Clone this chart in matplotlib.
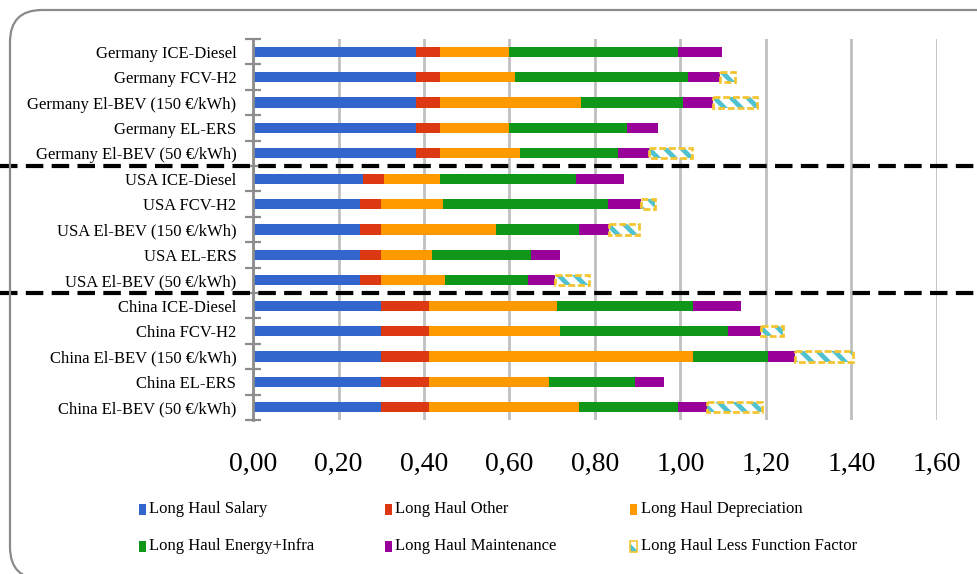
import matplotlib
matplotlib.use("Agg")
import matplotlib.pyplot as plt
import numpy as np
from matplotlib.patches import Rectangle, FancyBboxPatch
from matplotlib.transforms import blended_transform_factory

# ---- data (cost per km, €) ----
categories = [
    "Germany ICE-Diesel", "Germany FCV-H2", "Germany El-BEV (150 €/kWh)",
    "Germany EL-ERS", "Germany El-BEV (50 €/kWh)",
    "USA ICE-Diesel", "USA FCV-H2", "USA El-BEV (150 €/kWh)",
    "USA EL-ERS", "USA El-BEV (50 €/kWh)",
    "China ICE-Diesel", "China FCV-H2", "China El-BEV (150 €/kWh)",
    "China EL-ERS", "China El-BEV (50 €/kWh)",
]
salary = [0.381, 0.381, 0.381, 0.381, 0.381,
          0.257, 0.250, 0.250, 0.250, 0.250,
          0.299, 0.299, 0.299, 0.299, 0.299]
other = [0.056, 0.056, 0.056, 0.056, 0.056,
         0.049, 0.050, 0.050, 0.050, 0.050,
         0.113, 0.113, 0.113, 0.113, 0.113]
depreciation = [0.163, 0.175, 0.331, 0.163, 0.188,
                0.131, 0.144, 0.268, 0.119, 0.150,
                0.300, 0.306, 0.618, 0.281, 0.350]
energy_infra = [0.393, 0.406, 0.237, 0.274, 0.229,
                0.319, 0.386, 0.194, 0.231, 0.193,
                0.318, 0.393, 0.175, 0.200, 0.231]
maintenance = [0.105, 0.074, 0.072, 0.074, 0.072,
               0.112, 0.078, 0.070, 0.068, 0.064,
               0.112, 0.077, 0.064, 0.068, 0.068]
less_function = [0.0, 0.036, 0.101, 0.0, 0.102,
                 0.0, 0.033, 0.072, 0.0, 0.078,
                 0.0, 0.052, 0.134, 0.0, 0.130]
xticks = [0.0, 0.2, 0.4, 0.6, 0.8, 1.0, 1.2, 1.4, 1.6]
xtick_labels = ["0,00", "0,20", "0,40", "0,60", "0,80", "1,00", "1,20", "1,40", "1,60"]
series_names = ["Long Haul Salary", "Long Haul Other", "Long Haul Depreciation",
                "Long Haul Energy+Infra", "Long Haul Maintenance",
                "Long Haul Less Function Factor"]
group_size = 5

colors = ["#3366cc", "#dc3912", "#ff9900", "#109618", "#990099"]
hatch_color = "#4fc1cf"
hatch_edge = "#f4c531"

plt.rcParams["font.family"] = ["Liberation Serif", "DejaVu Serif"]
plt.rcParams["hatch.linewidth"] = 3.4

fig = plt.figure(figsize=(9.78, 5.74), dpi=100)
fig.patch.set_facecolor("white")

# rounded outer frame
frame = FancyBboxPatch((0.10, -0.05), 10.5, 5.69,
                       boxstyle="round,pad=0,rounding_size=0.32",
                       transform=fig.dpi_scale_trans, facecolor="none",
                       edgecolor="#8a8a8a", linewidth=1.6, zorder=0)
fig.patches.append(frame)

ax = fig.add_axes([253 / 978, 1 - 420 / 574, (937 - 253) / 978, (420 - 39) / 574])
ax.set_facecolor("none")

y = np.arange(len(categories))
h = 0.4
left = np.zeros(len(categories))
for vals, col in zip([salary, other, depreciation, energy_infra, maintenance], colors):
    vals = np.asarray(vals)
    ax.barh(y, vals, left=left, height=h, color=col, linewidth=0, zorder=3)
    left = left + vals

lf = np.asarray(less_function)
mask = lf > 0
ax.barh(y[mask], lf[mask], left=left[mask], height=h, color="white",
        edgecolor=hatch_color, hatch="\\\\", linewidth=0, zorder=3)
ax.barh(y[mask], lf[mask], left=left[mask], height=h, fill=False,
        edgecolor=hatch_edge, linewidth=2.0, linestyle=(0, (2.5, 1)), zorder=4)

ax.set_xlim(0, 1.6)
ax.set_ylim(len(categories) - 0.5, -0.5)
ax.set_xticks(xticks)
ax.set_xticklabels(xtick_labels, fontsize=20)
ax.tick_params(axis="x", length=0, pad=23)
ax.set_yticks(y)
ax.set_yticklabels(categories, fontsize=12)
ax.tick_params(axis="y", which="major", length=0, pad=12)
ax.set_yticks(np.arange(-0.5, len(categories), 1.0), minor=True)
ax.tick_params(axis="y", which="minor", direction="inout", length=11,
               width=1.6, color="#8c8c8c")

for s in ["top", "right", "bottom"]:
    ax.spines[s].set_visible(False)
ax.spines["left"].set_color("#8c8c8c")
ax.spines["left"].set_linewidth(2)
ax.spines["left"].set_zorder(5)

ax.xaxis.grid(True, color="#c0c0c0", linewidth=2)
ax.set_axisbelow(True)

# dashed separators between countries, spanning the full width
trans = blended_transform_factory(fig.transFigure, ax.transData)
for g in range(1, len(categories) // group_size):
    yy = g * group_size - 0.5
    ax.plot([0, 1], [yy, yy], transform=trans, color="black", linewidth=3,
            linestyle=(0, (4.2, 2.0)), clip_on=False, zorder=6)

# legend laid out in two rows of three
leg_x = [142, 388, 634]
leg_y = [509, 546]
for i, name in enumerate(series_names):
    cx = leg_x[i % 3]
    cy = leg_y[i // 3]
    w, hh = 7, 11
    rx = (cx - w / 2) / 978
    ry = 1 - (cy + hh / 2) / 574
    if i < 5:
        r = Rectangle((rx, ry), w / 978, hh / 574, transform=fig.transFigure,
                      facecolor=colors[i], linewidth=0)
        fig.patches.append(r)
    else:
        r = Rectangle((rx, ry), w / 978, hh / 574, transform=fig.transFigure,
                      facecolor="white", edgecolor=hatch_color, hatch="\\\\",
                      linewidth=0)
        fig.patches.append(r)
        fig.patches.append(Rectangle((rx, ry), w / 978, hh / 574,
                                     transform=fig.transFigure, fill=False,
                                     edgecolor=hatch_edge, linewidth=1.2))
    fig.text((cx + 7) / 978, 1 - cy / 574, name, fontsize=12,
             ha="left", va="center")

fig.savefig("out.png", dpi=100, facecolor="white")
